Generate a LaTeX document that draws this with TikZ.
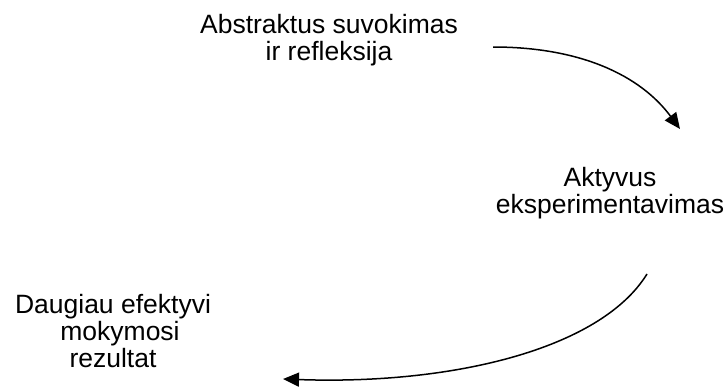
\documentclass[tikz,border=0pt]{standalone}
\usepackage{fontspec}
\setmainfont{Liberation Sans}
\usetikzlibrary{arrows.meta}
\begin{document}
\begin{tikzpicture}[x=1pt,y=-1pt,
  label text/.style={inner sep=0pt,align=center,anchor=base,
    font=\fontsize{26.5}{27}\selectfont},
  cycle arrow/.style={line width=1.5pt,-{Triangle[length=16pt,width=14pt]}}]
  \useasboundingbox (0,0) rectangle (726,388);
  % stage labels (anchored at the baseline of the last line)
  \node[label text] (abstract) at (329,60) {Abstraktus suvokimas\\ir refleksija};
  \node[label text] (active) at (610,213) {Aktyvus\\eksperimentavimas};
  \node[label text] (result) at (113,367) {Daugiau efektyvi\\\hspace*{14pt}mokymosi\\rezultat};
  % arrow end points
  \coordinate (a1s) at (493,47);
  \coordinate (a1e) at (680,129);
  \coordinate (a2s) at (647,274);
  \coordinate (a2e) at (283,379);
  % connecting arrows
  \draw[cycle arrow] (a1s) .. controls (580,47) and (640,75) .. (a1e);
  \draw[cycle arrow] (a2s) .. controls (600,350) and (450,385) .. (a2e);
\end{tikzpicture}
\end{document}
